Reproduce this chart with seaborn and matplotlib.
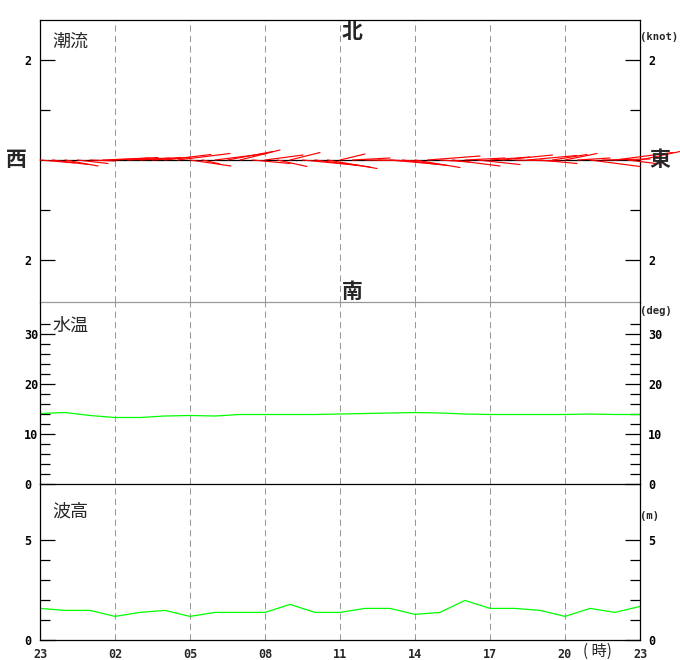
import numpy as np
import pandas as pd
import matplotlib
matplotlib.use('Agg')
import matplotlib.pyplot as plt
import matplotlib.transforms as mtrans
import seaborn as sns

# hours since 23:00, hourly values
hours = list(range(25))
hour_labels = ['23', '02', '05', '08', '11', '14', '17', '20', '23']
# water temperature (deg)
temp = [14.1, 14.3, 13.7, 13.3, 13.3, 13.6, 13.7, 13.6, 13.9, 13.9, 13.9, 13.9, 14.0,
        14.1, 14.2, 14.3, 14.2, 14.0, 13.9, 13.9, 13.9, 13.9, 14.0, 13.9, 13.9]
# wave height (m)
wave = [1.58, 1.48, 1.48, 1.18, 1.38, 1.48, 1.18, 1.38, 1.38, 1.38, 1.78, 1.38, 1.38,
        1.58, 1.58, 1.28, 1.38, 1.98, 1.58, 1.58, 1.48, 1.18, 1.58, 1.38, 1.68]
# tidal current every 30 min, east / north components (knot)
cur_time = [i * 0.5 for i in range(49)]
cur_u = [0.70, 0.71, 0.66, 0.61, 0.50, 0.95, 0.86, 0.85, 0.82, 0.75, 0.92, 1.05, 0.82,
         0.35, 1.04, 0.91, 0.80, 0.75, 0.76, 0.59, 0.60, 1.15, 1.10, 0.99, 0.50, 0.75,
         0.70, 0.85, 1.00, 0.89, 0.90, 1.05, 0.60, 0.95, 0.80, 0.85, 0.80, 1.00, 0.90,
         0.99, 0.74, 0.69, 0.64, 0.65, 1.00, 0.95, 1.16, 0.65, 0.80]
cur_v = [-0.06, -0.09, -0.12, -0.07, -0.02, 0.04, 0.05, 0.04, 0.05, 0.05, 0.11, 0.13, -0.12,
         -0.08, 0.13, 0.17, 0.20, -0.07, 0.10, -0.13, 0.15, -0.11, -0.14, -0.17, 0.12, 0.04,
         -0.01, -0.02, -0.09, -0.11, -0.15, 0.08, -0.04, -0.12, 0.04, -0.09, 0.06, 0.10, -0.02,
         0.09, -0.07, 0.11, 0.13, 0.04, -0.13, 0.02, 0.15, -0.08, 0.17]

sns.set_style('white')
plt.rcParams['font.family'] = ['DejaVu Sans Mono', 'Noto Sans CJK JP']
cjk = ['Noto Sans CJK JP', 'DejaVu Sans']

W, H = 680, 660
fig = plt.figure(figsize=(W / 100, H / 100), dpi=100)


def px(x, y):
    # pixel position -> figure fraction
    return x / W, 1 - y / H


def axes_box(top, bottom):
    return [40 / W, 1 - bottom / H, 600 / W, (bottom - top) / H]


ax_cur = fig.add_axes(axes_box(20, 302))
ax_tmp = fig.add_axes(axes_box(302, 484))
ax_wav = fig.add_axes(axes_box(484, 640))

green = '#00ff00'
df = pd.DataFrame({'hour': hours, 'temp': temp, 'wave': wave})
sns.lineplot(data=df, x='hour', y='temp', ax=ax_tmp, color=green, lw=0.9)
sns.lineplot(data=df, x='hour', y='wave', ax=ax_wav, color=green, lw=0.9)

# current sticks: 25 px per hour, 50 px per knot -> 2 h per knot east
ax_cur.axhline(0, color='black', lw=0.9, zorder=2)
for t, u, v in zip(cur_time, cur_u, cur_v):
    ax_cur.plot([t, t + 2 * u], [0, v], color='red', lw=0.85, clip_on=False, zorder=3)

ax_cur.set_ylim(-2.84, 2.8)
ax_tmp.set_ylim(0, 36.4)
ax_wav.set_ylim(0, 7.8)

for ax in [ax_cur, ax_tmp, ax_wav]:
    ax.patch.set_alpha(0)
    ax.set_xlim(0, 24)
    ax.set_xticks(range(0, 25, 3))
    ax.grid(axis='x', color='#999999', lw=0.75, ls=(0, (6, 4)))
    ax.grid(axis='y', visible=False)
    ax.set_xlabel('')
    ax.set_ylabel('')
    for s in ax.spines.values():
        s.set_color('black')
        s.set_linewidth(0.9)
    ax.tick_params(axis='x', length=0)
    ax.tick_params(axis='y', which='both', direction='in', left=True, right=True,
                   labelleft=True, labelright=True, colors='black', width=0.9)
    ax.tick_params(axis='y', which='major', length=11, labelsize=8.5, pad=11.5)
    ax.tick_params(axis='y', which='minor', length=7.2)

ax_cur.spines['bottom'].set_color('#999999')
ax_cur.spines['bottom'].set_zorder(5)
ax_tmp.spines['top'].set_visible(False)
ax_wav.spines['top'].set_visible(False)

ax_cur.set_xticklabels([])
ax_tmp.set_xticklabels([])
ax_wav.set_xticklabels(hour_labels, fontsize=8.5, fontweight='bold')
ax_wav.tick_params(axis='x', pad=6)

ax_cur.set_yticks([-2, 2])
ax_cur.set_yticklabels(['2', '2'])
ax_cur.set_yticks([-1, 1], minor=True)
ax_tmp.set_yticks([0, 10, 20, 30])
ax_tmp.set_yticks([v for v in range(2, 33, 2) if v % 10 != 0], minor=True)
ax_wav.set_yticks([0, 5])
ax_wav.set_yticks([1, 2, 3, 4], minor=True)

# left labels start at a fixed column, right labels 8 px off the axis
for ax in [ax_cur, ax_tmp, ax_wav]:
    for tk in ax.yaxis.get_major_ticks():
        tk.label1.set_ha('left')
        tk.label1.set_fontweight('bold')
        tk.label2.set_fontweight('bold')
        tk.label2.set_transform(ax.get_yaxis_transform(which='tick2') +
                                mtrans.ScaledTranslation(0.08, 0, fig.dpi_scale_trans))

# panel titles and compass words
fig.text(*px(52, 42), '潮流', family=cjk, fontsize=13, va='center', ha='left')
fig.text(*px(52, 326), '水温', family=cjk, fontsize=13, va='center', ha='left')
fig.text(*px(52, 512), '波高', family=cjk, fontsize=13, va='center', ha='left')
fig.text(*px(352, 31), '北', family=cjk, fontsize=15, fontweight='bold', va='center', ha='center')
fig.text(*px(352, 291), '南', family=cjk, fontsize=15, fontweight='bold', va='center', ha='center')
fig.text(*px(16, 160), '西', family=cjk, fontsize=15, fontweight='bold', va='center', ha='center')
fig.text(*px(660, 159), '東', family=cjk, fontsize=15, fontweight='bold', va='center', ha='center')
fig.text(*px(640, 37), '(knot)', fontsize=7.6, fontweight='bold', va='center', ha='left')
fig.text(*px(640, 311), '(deg)', fontsize=7.6, fontweight='bold', va='center', ha='left')
fig.text(*px(640, 516), '(m)', fontsize=7.6, fontweight='bold', va='center', ha='left')
fig.text(*px(597, 651), '( 時)', family=cjk, fontsize=11, va='center', ha='center')

fig.savefig('out.png', dpi=100)
